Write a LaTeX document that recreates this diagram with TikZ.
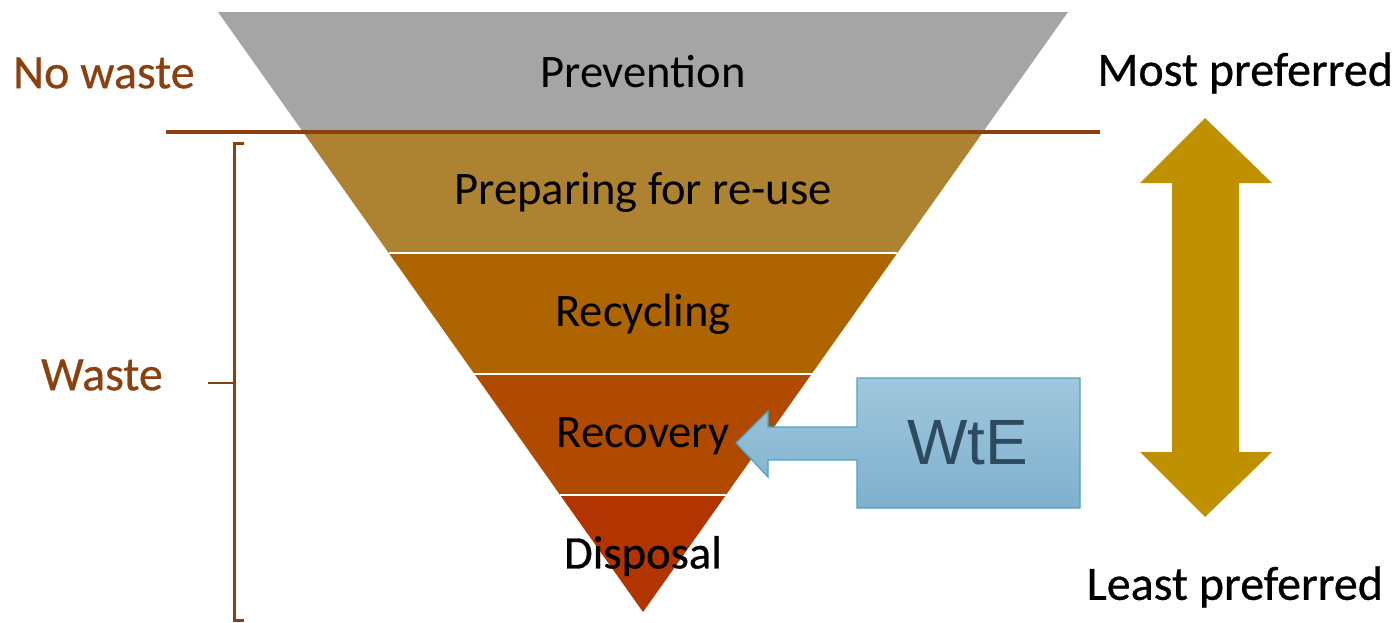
\documentclass[tikz,border=0pt]{standalone}
\usepackage{fontspec}
\setmainfont{Carlito}
\newfontfamily\heavyf{Carlito}[FakeBold=0.6]
\newfontfamily\arialf{Liberation Sans}
\definecolor{cgray}{RGB}{165,165,165}
\definecolor{cprep}{RGB}{173,130,48}
\definecolor{crecy}{RGB}{174,100,0}
\definecolor{creco}{RGB}{176,74,0}
\definecolor{cdisp}{RGB}{178,52,0}
\definecolor{cbrown}{RGB}{139,64,16}
\definecolor{cgold}{RGB}{191,144,0}
\definecolor{wtetop}{RGB}{160,198,220}
\definecolor{wtebot}{RGB}{126,177,207}
\definecolor{wteline}{RGB}{75,163,195}
\definecolor{wtetext}{RGB}{46,74,94}
\begin{document}
\begin{tikzpicture}[x=0.5pt,y=-0.5pt,
  layertext/.style={font=\fontsize{23.3}{27}\selectfont, text=black},
  sidetext/.style={font=\heavyf\fontsize{24}{28}\selectfont, text=cbrown},
  preftext/.style={font=\heavyf\fontsize{24}{28}\selectfont, text=black},
  sep/.style={white, line width=0.8pt}]
\useasboundingbox (0,0) rectangle (1395,622);
% layers
\fill[cgray] (218,12) -- (1068,12) -- (983,132) -- (303,132) -- cycle;
\fill[cprep] (303,132) -- (983,132) -- (897.3,253) -- (388.7,253) -- cycle;
\fill[crecy] (388.7,253) -- (897.3,253) -- (811.6,374) -- (474.4,374) -- cycle;
\fill[creco] (474.4,374) -- (811.6,374) -- (725.9,495) -- (560.1,495) -- cycle;
\fill[cdisp] (560.1,495) -- (725.9,495) -- (643,612) -- cycle;
\draw[sep] (388.7,253) -- (897.3,253);
\draw[sep] (474.4,374) -- (811.6,374);
\draw[sep] (560.1,495) -- (725.9,495);
% separator line
\coordinate (sepL) at (166,132);
\coordinate (sepR) at (1100,132);
\draw[cbrown, line width=2pt] (sepL) -- (sepR);
% layer labels
\node[layertext] (prev) at (643,72) {Prevention};
\node[layertext] (prep) at (643,192) {Preparing for re-use};
\node[layertext] (recy) at (643,314) {Recycling};
\node[layertext] (reco) at (643,436) {Recovery};
\node[layertext, font=\heavyf\fontsize{23.3}{27}\selectfont] (disp) at (643,556) {Disposal};
% side labels
\node[sidetext, anchor=west] (nowaste) at (6,73) {No waste};
\node[sidetext, anchor=west] (waste) at (34,375) {Waste};
% bracket
\coordinate (bt) at (244,143);
\coordinate (bb) at (244,620);
\coordinate (bm) at (208,383);
\draw[cbrown, line width=1.5pt] (bt) -- (234,143) -- (234,620) -- (bb);
\draw[cbrown, line width=1.2pt] (bm) -- (234,383);
% WtE callout
\shade[top color=wtetop, bottom color=wtebot, draw=wteline, line width=0.6pt]
  (857,378) -- (1080,378) -- (1080,508) -- (857,508) -- (857,460) -- (768,460)
  -- (768,477) -- (736,443) -- (768,411) -- (768,427) -- (857,427) -- cycle;
\node[font=\arialf\fontsize{32}{36}\selectfont, text=wtetext] (wte) at (968,443) {WtE};
\coordinate (wtetip) at (736,443);
% gold double arrow
\fill[cgold] (1205,118) -- (1272,183) -- (1239,183) -- (1239,452) -- (1272,452)
  -- (1205,517) -- (1140,452) -- (1172,452) -- (1172,183) -- (1140,183) -- cycle;
\node[preftext, anchor=east] (most) at (1400,73) {Most preferred};
\node[preftext, anchor=east] (least) at (1390,587) {Least preferred};
\end{tikzpicture}
\end{document}
